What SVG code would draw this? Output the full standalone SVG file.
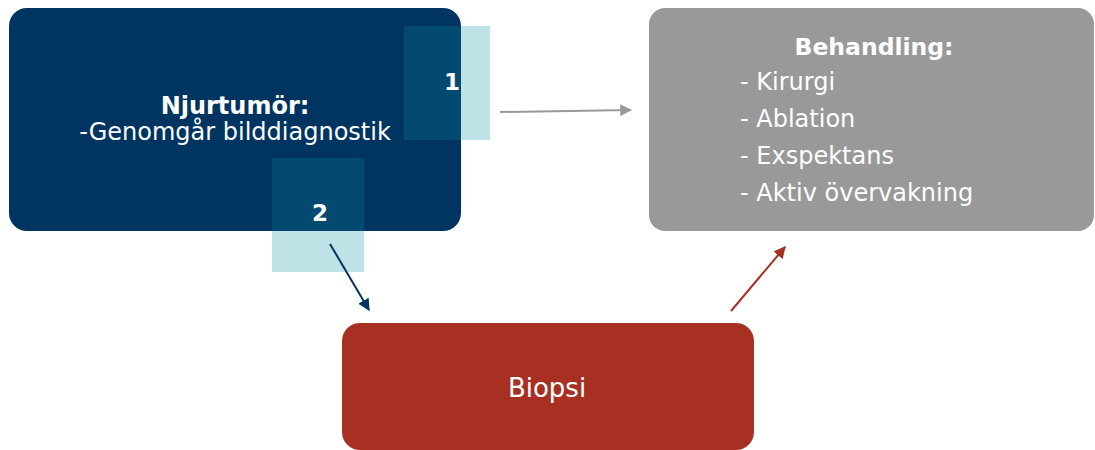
<svg xmlns="http://www.w3.org/2000/svg" width="1095" height="450" viewBox="0 0 1095 450">
<defs>
<style>
text{font-family:"DejaVu Sans","Liberation Sans",sans-serif;fill:#fff}
.b{font-weight:bold}
.c{text-anchor:middle}
</style>
<marker id="ag" viewBox="0 0 10 10" refX="9" refY="5" markerWidth="12" markerHeight="12" markerUnits="userSpaceOnUse" orient="auto"><path d="M0,0L10,5L0,10z" fill="#999999"/></marker>
<marker id="ab" viewBox="0 0 10 10" refX="9" refY="5" markerWidth="12" markerHeight="12" markerUnits="userSpaceOnUse" orient="auto"><path d="M0,0L10,5L0,10z" fill="#003461"/></marker>
<marker id="ar" viewBox="0 0 10 10" refX="9" refY="5" markerWidth="12" markerHeight="12" markerUnits="userSpaceOnUse" orient="auto"><path d="M0,0L10,5L0,10z" fill="#A83022"/></marker>
</defs>
<rect width="1095" height="450" fill="#fff"/>
<g id="njurtumor">
<rect x="404" y="26" width="86" height="114" fill="#BFE2E6"/>
<rect x="272" y="158" width="92" height="114" fill="#BFE2E6"/>
<rect x="9" y="8" width="452" height="223" rx="18" fill="#003461"/>
<rect x="404" y="26" width="57" height="114" fill="#024A70"/>
<rect x="272" y="158" width="92" height="73" fill="#024A70"/>
<text class="b c" x="235" y="114" font-size="24">Njurtumör:</text>
<text class="c" x="235" y="140" font-size="24">-Genomgår bilddiagnostik</text>
<text class="b c" x="452" y="90" font-size="23">1</text>
<text class="b c" x="320" y="221" font-size="23">2</text>
</g>
<g id="behandling">
<rect x="649" y="8" width="445" height="223" rx="16" fill="#999999"/>
<text class="b c" x="874" y="55" font-size="23.5">Behandling:</text>
<text x="740" y="90" font-size="24">- Kirurgi</text>
<text x="740" y="127" font-size="24">- Ablation</text>
<text x="740" y="164" font-size="24">- Exspektans</text>
<text x="740" y="201" font-size="24">- Aktiv övervakning</text>
</g>
<g id="biopsi">
<rect x="342" y="323" width="412" height="127" rx="18" fill="#A83022"/>
<text class="c" x="547" y="397" font-size="26">Biopsi</text>
</g>
<g id="connectors" stroke-width="2" fill="none">
<line x1="500" y1="112" x2="631" y2="110" stroke="#999999" marker-end="url(#ag)"/>
<line x1="330" y1="244" x2="369" y2="310" stroke="#003461" marker-end="url(#ab)"/>
<line x1="731" y1="311" x2="785" y2="247" stroke="#A83022" marker-end="url(#ar)"/>
</g>
</svg>
